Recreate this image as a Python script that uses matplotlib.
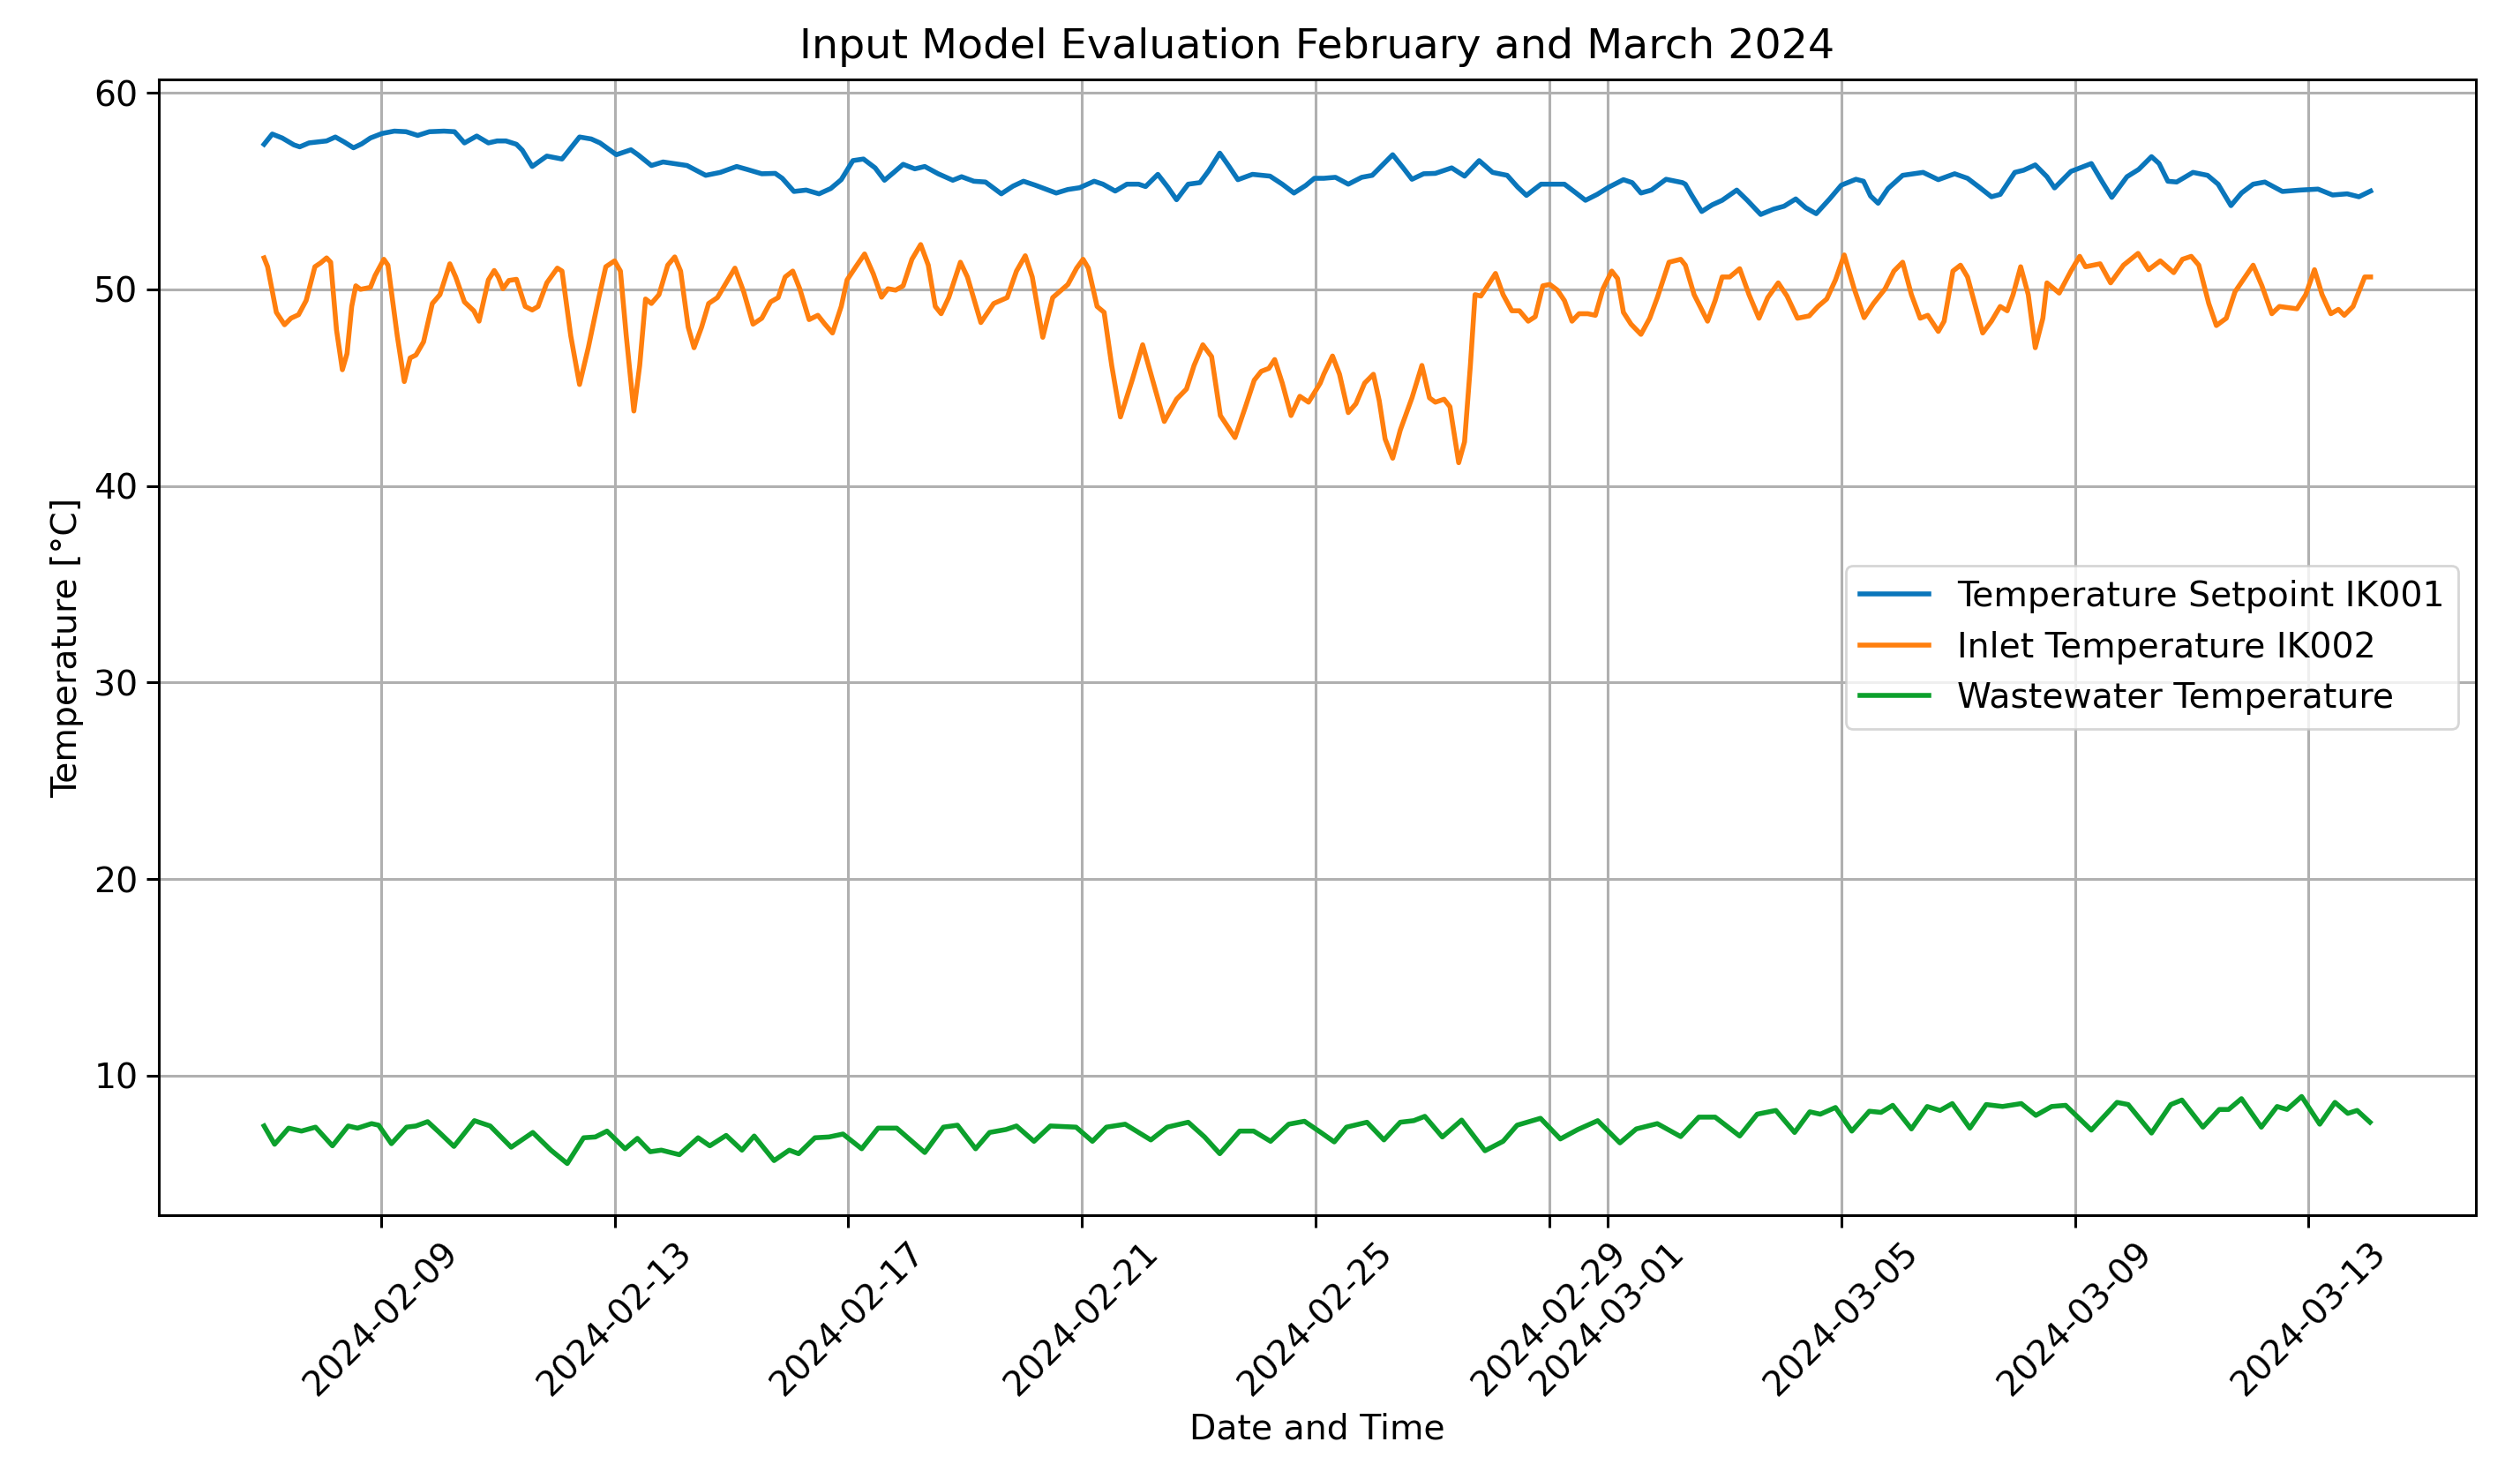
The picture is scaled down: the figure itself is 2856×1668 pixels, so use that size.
import matplotlib
matplotlib.use("Agg")
import matplotlib.pyplot as plt
import pandas as pd

start = pd.Timestamp("2024-02-07 00:00")

# Temperature Setpoint IK001 (days since start, value)
setpoint_day = [0.0, 0.14, 0.31, 0.51, 0.61, 0.77, 1.07, 1.22, 1.37, 1.53, 1.67, 1.82, 2.02, 2.23, 2.43, 2.63,
                2.83, 3.08, 3.26, 3.43, 3.64, 3.84, 3.99, 4.14, 4.32, 4.42, 4.59, 4.84, 5.10, 5.40, 5.60,
                5.75, 6.03, 6.28, 6.40, 6.63, 6.83, 7.01, 7.24, 7.56, 7.81, 8.09, 8.27, 8.52, 8.75, 8.87, 9.07,
                9.28, 9.50, 9.70, 9.88, 10.08, 10.26, 10.46, 10.62, 10.78, 10.94, 11.14, 11.31, 11.54, 11.79,
                11.94, 12.15, 12.35, 12.62, 12.82, 13.00, 13.20, 13.56, 13.76, 13.96, 14.21, 14.36, 14.57, 14.77,
                14.97, 15.09, 15.30, 15.47, 15.62, 15.82, 16.02, 16.17, 16.36, 16.52, 16.67, 16.92, 17.22, 17.43,
                17.63, 17.83, 17.98,
                18.14, 18.34, 18.56, 18.79, 18.97, 19.32, 19.50, 19.65, 19.85, 20.05, 20.33, 20.55, 20.80, 21.03,
                21.28, 21.46, 21.61, 21.86, 22.26, 22.46, 22.62, 22.82, 23.02, 23.27, 23.42, 23.57, 23.75, 24.00,
                24.28,
                24.33, 24.43, 24.61, 24.79, 24.96, 25.21, 25.39, 25.62, 25.84, 26.02, 26.22, 26.39, 26.57, 26.80,
                27.00, 27.25, 27.38, 27.50, 27.63, 27.80, 28.05, 28.40, 28.66, 28.94, 29.16, 29.36, 29.57, 29.72,
                29.97, 30.12, 30.32, 30.47,
                30.52, 30.65, 30.93, 31.28, 31.46, 31.63, 31.89, 32.09, 32.31, 32.44, 32.59, 32.74, 33.02, 33.27,
                33.45, 33.67, 33.85, 34.05, 34.25, 34.55, 34.85, 35.16, 35.41, 35.66, 35.86, 36.06]
setpoint_val = [57.38, 57.9, 57.7, 57.35, 57.25, 57.45, 57.55, 57.75, 57.5, 57.2, 57.4, 57.7, 57.93, 58.05, 58.02, 57.83,
                58.02, 58.05, 58.02, 57.45, 57.8, 57.45, 57.55, 57.55, 57.38, 57.08, 56.25, 56.78, 56.63, 57.75, 57.65,
                57.45, 56.85, 57.1, 56.85, 56.3, 56.48, 56.4, 56.3, 55.8, 55.95, 56.25, 56.1, 55.88, 55.9, 55.65, 54.98,
                55.05, 54.86, 55.13, 55.58, 56.55, 56.63, 56.18, 55.55, 55.95, 56.36, 56.13, 56.25, 55.88, 55.55,
                55.73, 55.5, 55.46, 54.86, 55.25, 55.5, 55.3, 54.9, 55.08, 55.17, 55.5, 55.35, 55.0, 55.35,
                55.35, 55.23, 55.85, 55.2, 54.56, 55.35, 55.43, 56.03, 56.93, 56.25, 55.58, 55.85, 55.76, 55.35,
                54.9, 55.28, 55.65,
                55.65, 55.7, 55.35, 55.7, 55.8, 56.85, 56.18, 55.6, 55.88, 55.9, 56.18, 55.76, 56.55, 55.95,
                55.8, 55.2, 54.78, 55.35, 55.35, 54.9, 54.53, 54.83, 55.2, 55.58, 55.43, 54.9, 55.05, 55.6,
                55.43,
                55.35, 54.83, 53.96, 54.3, 54.53, 55.05, 54.53, 53.81, 54.08, 54.23, 54.6, 54.15, 53.85, 54.6,
                55.3, 55.6, 55.5, 54.75, 54.38, 55.13, 55.8, 55.95, 55.58, 55.88, 55.65, 55.2, 54.71, 54.83,
                55.95, 56.06, 56.33, 55.88,
                55.73, 55.16, 56.0, 56.4, 55.5, 54.68, 55.73, 56.1, 56.75, 56.4, 55.5, 55.46, 55.95, 55.8,
                55.35, 54.26, 54.9, 55.35, 55.46, 54.98, 55.05, 55.1, 54.8, 54.86, 54.71, 55.0]

# Inlet Temperature IK002
inlet_day = [0.0, 0.06, 0.21, 0.35, 0.46, 0.59, 0.72, 0.87, 0.97, 1.07, 1.14, 1.24, 1.34, 1.42, 1.50, 1.57, 1.65,
             1.82, 1.90, 2.05, 2.12, 2.28, 2.40, 2.50, 2.60, 2.73, 2.88, 3.01, 3.18, 3.28, 3.43, 3.59, 3.68, 3.84,
             3.94, 4.01, 4.09, 4.19, 4.32, 4.47, 4.59, 4.69, 4.84, 5.02, 5.10, 5.25, 5.40, 5.55, 5.73,
             5.85, 6.00, 6.10, 6.20, 6.33, 6.43, 6.53, 6.63, 6.76, 6.91, 7.03, 7.13, 7.26, 7.36, 7.49, 7.61, 7.76,
             7.91, 8.06, 8.21, 8.37, 8.52, 8.67, 8.80, 8.92, 9.05, 9.17, 9.33, 9.48, 9.60, 9.73, 9.88, 9.98, 10.13,
             10.28, 10.43, 10.57, 10.68, 10.81, 10.94, 11.09, 11.24, 11.37, 11.49, 11.59, 11.72, 11.92,
             12.04, 12.27, 12.49, 12.72, 12.88, 13.03, 13.15, 13.33, 13.50, 13.76, 13.91, 14.02, 14.11, 14.26,
             14.38, 14.51, 14.66, 14.86, 15.04, 15.21, 15.41, 15.62, 15.79, 15.92, 16.07, 16.22, 16.37, 16.62,
             16.80, 16.95, 17.07, 17.20, 17.30, 17.43, 17.58, 17.73, 17.88, 18.08,
             18.14, 18.29, 18.41, 18.56, 18.69, 18.84, 18.99, 19.09, 19.19, 19.32, 19.45, 19.65, 19.82, 19.95,
             20.05, 20.20, 20.30, 20.45, 20.55, 20.65, 20.73, 20.83, 20.96, 21.08, 21.21, 21.36, 21.49, 21.64,
             21.76, 21.89, 22.01, 22.14, 22.26, 22.39, 22.51, 22.66, 22.79, 22.92, 23.07, 23.17, 23.27, 23.40,
             23.57, 23.72, 23.85, 24.05, 24.25,
             24.33, 24.48, 24.71, 24.84, 24.96, 25.09, 25.26, 25.42, 25.59, 25.74, 25.92, 26.07, 26.25, 26.45,
             26.60, 26.75, 26.90, 27.05, 27.22, 27.39, 27.55, 27.75, 27.90, 28.05, 28.20, 28.35, 28.48, 28.66,
             28.76, 28.91, 29.04, 29.16, 29.42, 29.57, 29.72, 29.84, 29.94, 30.07, 30.20, 30.32, 30.45,
             30.52, 30.73, 30.93, 31.08, 31.18, 31.43, 31.61, 31.83, 32.08, 32.26, 32.46, 32.69, 32.84, 32.99,
             33.12, 33.29, 33.42, 33.59, 33.74, 34.05, 34.20, 34.37, 34.50, 34.80, 34.95, 35.10, 35.23, 35.38,
             35.51, 35.61, 35.76, 35.96, 36.06]
inlet_val = [51.6, 51.15, 48.83, 48.2, 48.53, 48.71, 49.43, 51.15, 51.35, 51.6, 51.38, 47.93, 45.91, 46.73, 49.13, 50.18, 50.0,
             50.1, 50.7, 51.53, 51.23, 47.63, 45.31, 46.51, 46.66, 47.33, 49.28, 49.73, 51.3, 50.63, 49.36, 48.91, 48.38, 50.48,
             50.96, 50.63, 50.03, 50.45, 50.51, 49.13, 48.95, 49.13, 50.33, 51.08, 50.93, 47.63, 45.16, 47.03, 49.58,
             51.15, 51.45, 50.93, 47.63, 43.81, 46.13, 49.51, 49.28, 49.73, 51.23, 51.65, 50.93, 48.08, 47.03, 48.08, 49.28, 49.58,
             50.33, 51.08, 49.88, 48.23, 48.53, 49.36, 49.58, 50.63, 50.93, 50.03, 48.46, 48.68, 48.23, 47.78, 49.13, 50.48, 51.15,
             51.8, 50.78, 49.6, 50.03, 49.96, 50.18, 51.53, 52.28, 51.23, 49.13, 48.76, 49.58, 51.38,
             50.63, 48.31, 49.28, 49.58, 50.93, 51.71, 50.63, 47.56, 49.58, 50.25, 51.08, 51.53, 51.08, 49.13,
             48.83, 46.13, 43.51, 45.38, 47.18, 45.38, 43.28, 44.41, 44.93, 46.13, 47.18, 46.58, 43.58, 42.46,
             44.03, 45.38, 45.83, 45.98, 46.43, 45.23, 43.58, 44.56, 44.26, 45.23,
             45.68, 46.61, 45.68, 43.73, 44.18, 45.23, 45.68, 44.33, 42.39, 41.41, 42.84, 44.48, 46.13, 44.48,
             44.26, 44.41, 44.03, 41.18, 42.24, 46.13, 49.73, 49.66, 50.25, 50.81, 49.73, 48.91, 48.91, 48.38,
             48.61, 50.18, 50.25, 49.96, 49.43, 48.38, 48.76, 48.76, 48.68, 50.03, 50.93, 50.55, 48.83, 48.23,
             47.71, 48.53, 49.58, 51.38, 51.53,
             51.23, 49.73, 48.38, 49.43, 50.63, 50.63, 51.05, 49.73, 48.53, 49.58, 50.33, 49.66, 48.53, 48.65,
             49.13, 49.51, 50.48, 51.75, 50.03, 48.56, 49.28, 50.03, 50.93, 51.38, 49.73, 48.53, 48.68, 47.86,
             48.38, 50.93, 51.23, 50.63, 47.78, 48.38, 49.13, 48.91, 49.73, 51.15, 49.73, 47.03, 48.53,
             50.33, 49.81, 50.93, 51.68, 51.15, 51.3, 50.33, 51.23, 51.83, 51.0, 51.45, 50.85, 51.53, 51.68,
             51.23, 49.28, 48.16, 48.53, 49.88, 51.23, 50.18, 48.76, 49.13, 49.01, 49.73, 51.0, 49.73, 48.76,
             48.98, 48.68, 49.13, 50.63, 50.63]

# Wastewater Temperature
waste_day = [0.0, 0.18, 0.42, 0.64, 0.88, 1.17, 1.44, 1.60, 1.84, 1.96, 2.18, 2.44, 2.60, 2.80, 3.0, 3.25, 3.60,
             3.87, 4.23, 4.60, 4.91, 5.19, 5.47, 5.67, 5.87, 6.18, 6.39, 6.61, 6.80, 7.11, 7.43, 7.63, 7.91, 8.18,
             8.39, 8.73, 8.99, 9.15, 9.43, 9.67, 9.91, 10.23, 10.51, 10.83, 11.31, 11.63, 11.87,
             12.18, 12.42, 12.70, 12.88, 13.18, 13.46, 13.90, 14.18, 14.42, 14.74, 15.18, 15.46, 15.82, 16.10,
             16.36, 16.70, 16.94, 17.23, 17.54, 17.81, 18.09, 18.32, 18.53, 18.88, 19.17, 19.45, 19.68, 19.87,
             20.17, 20.50, 20.90, 21.21, 21.45, 21.85, 22.19, 22.49, 22.83, 23.21, 23.49, 23.85, 24.25,
             24.56, 24.84, 25.26, 25.56, 25.88, 26.20, 26.46, 26.64, 26.90, 27.18, 27.48, 27.68, 27.88, 28.20,
             28.47, 28.69, 28.90, 29.20, 29.48, 29.76, 30.08, 30.33, 30.60, 30.84, 31.28, 31.72, 31.91, 32.31,
             32.64, 32.83, 33.19, 33.47, 33.63, 33.85, 34.19, 34.46, 34.63, 34.88, 35.19, 35.45, 35.67, 35.83, 36.05]
waste_val = [7.44, 6.51, 7.33, 7.18, 7.38, 6.43, 7.44, 7.33, 7.56, 7.48, 6.54, 7.38, 7.44, 7.66, 7.11, 6.4, 7.71,
             7.44, 6.36, 7.11, 6.21, 5.53, 6.84, 6.88, 7.18, 6.28, 6.81, 6.13, 6.21, 5.98, 6.84, 6.43, 6.96, 6.21,
             6.93, 5.68, 6.21, 6.03, 6.84, 6.88, 7.03, 6.28, 7.33, 7.33, 6.09, 7.38, 7.48,
             6.28, 7.11, 7.26, 7.44, 6.66, 7.44, 7.38, 6.66, 7.38, 7.53, 6.73, 7.38, 7.63, 6.88,
             6.03, 7.18, 7.18, 6.66, 7.53, 7.68, 7.11, 6.63, 7.38, 7.63, 6.73, 7.63, 7.71, 7.93,
             6.88, 7.74, 6.18, 6.66, 7.48, 7.83, 6.78, 7.26, 7.71, 6.58, 7.29, 7.56, 6.9,
             7.89, 7.89, 6.93, 8.04, 8.23, 7.11, 8.16, 8.04, 8.38, 7.18, 8.19, 8.13, 8.49, 7.29,
             8.43, 8.23, 8.58, 7.33, 8.53, 8.43, 8.58, 7.98, 8.43, 8.49, 7.23, 8.64, 8.53, 7.08,
             8.53, 8.76, 7.38, 8.28, 8.28, 8.83, 7.38, 8.43, 8.28, 8.94, 7.53, 8.64, 8.08, 8.23, 7.63]

series_labels = ["Temperature Setpoint IK001", "Inlet Temperature IK002", "Wastewater Temperature"]
series_colors = ["#0a76bb", "#ff7f0e", "#0ca02c"]

FS = 14.2
plt.rcParams["font.family"] = ["DejaVu Sans"]
plt.rcParams["font.size"] = FS
plt.rcParams["axes.linewidth"] = 1.1
plt.rcParams["xtick.major.width"] = 1.1
plt.rcParams["ytick.major.width"] = 1.1
plt.rcParams["xtick.major.size"] = 4.9
plt.rcParams["ytick.major.size"] = 4.9

fig, ax = plt.subplots(figsize=(14.28, 8.34), dpi=200)
fig.subplots_adjust(left=0.063, right=0.9825, top=0.946, bottom=0.1745)

for days, vals, lab, col in [(setpoint_day, setpoint_val, series_labels[0], series_colors[0]),
                             (inlet_day, inlet_val, series_labels[1], series_colors[1]),
                             (waste_day, waste_val, series_labels[2], series_colors[2])]:
    t = start + pd.to_timedelta(days, unit="D")
    ax.plot(t, vals, color=col, lw=2.0, label=lab)

ax.set_title("Input Model Evaluation February and March 2024", fontsize=17.1, pad=8.5)
ax.set_xlabel("Date and Time", fontsize=FS)
ax.set_ylabel("Temperature [°C]", fontsize=FS)
ax.grid(True, color="#b0b0b0", lw=1.1)
ax.legend(loc="center right", fontsize=FS)
plt.setp(ax.get_xticklabels(), rotation=45)

fig.savefig("out.png", dpi=200)
